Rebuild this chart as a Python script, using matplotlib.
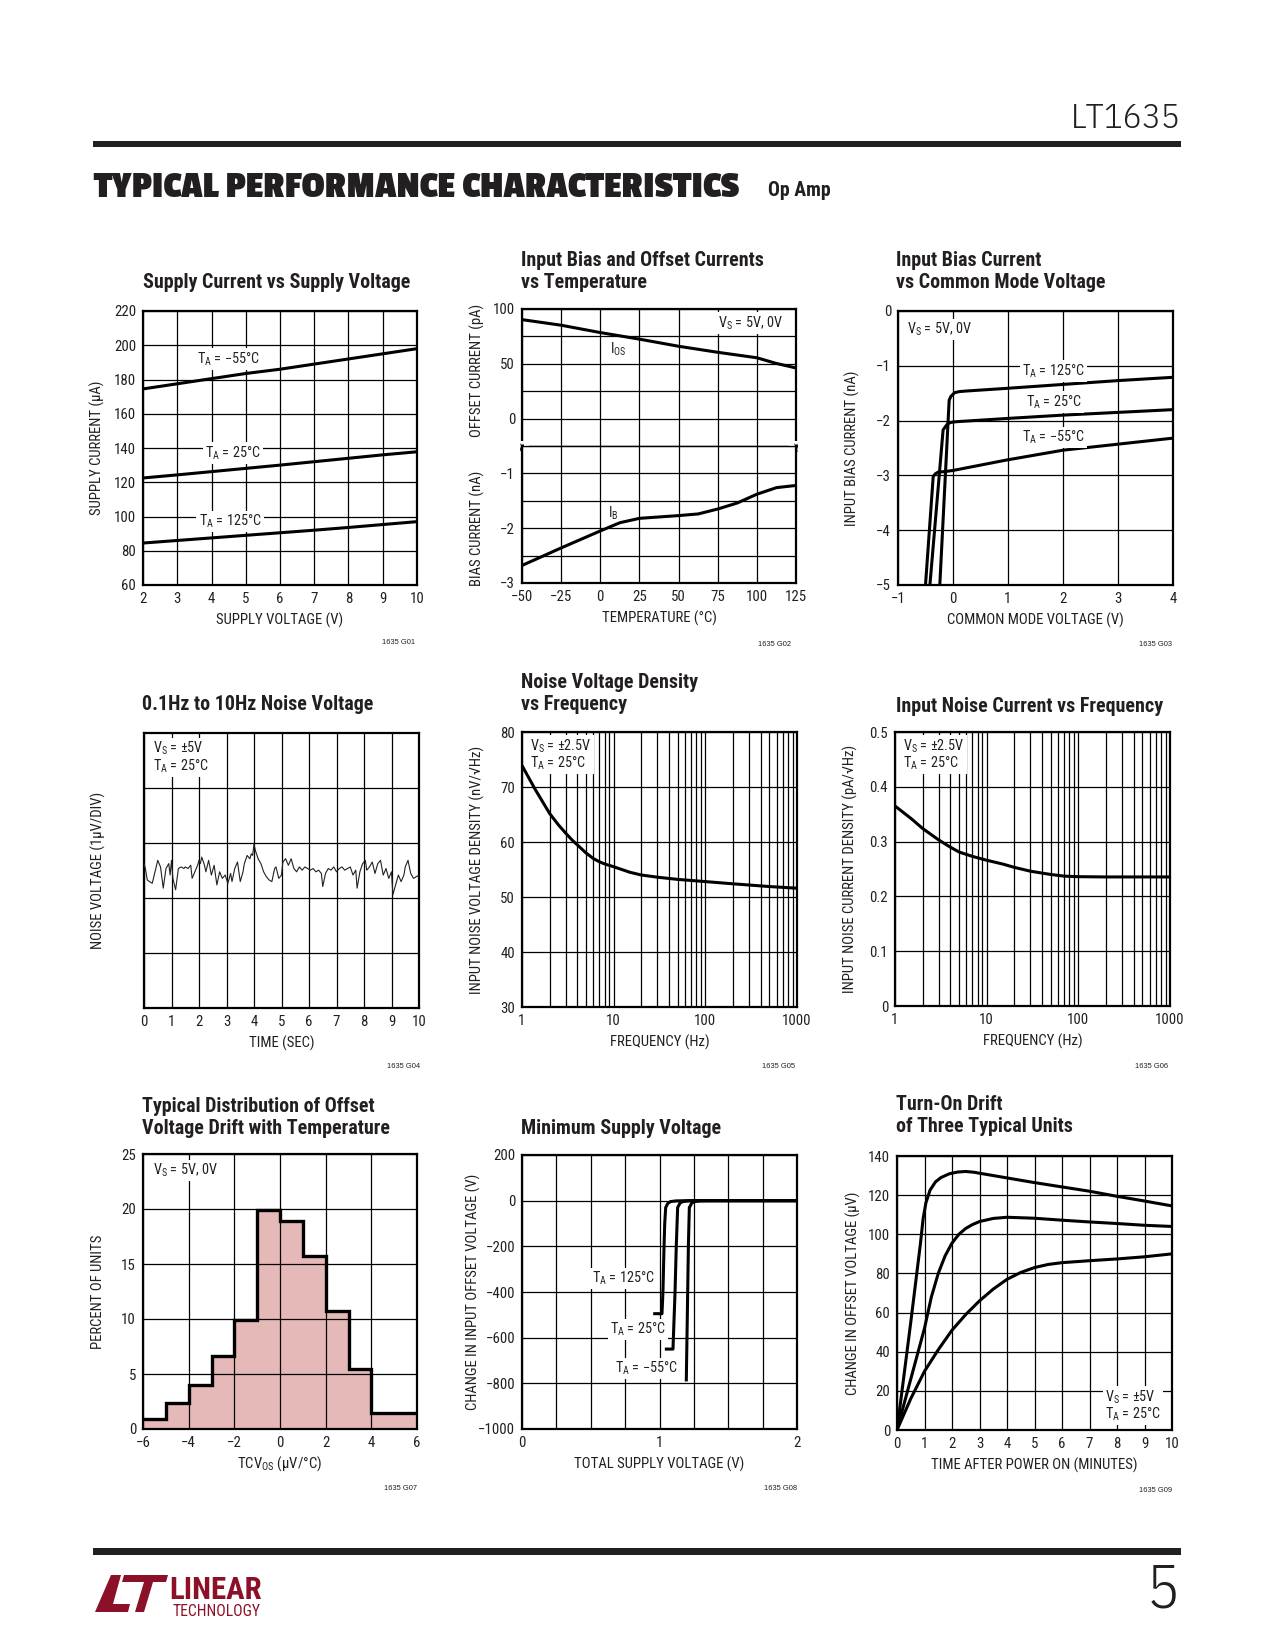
import matplotlib
matplotlib.use("Agg")
from collections import defaultdict
import matplotlib.pyplot as plt
from matplotlib import font_manager
from matplotlib.patches import Rectangle, Polygon
from matplotlib.ticker import MultipleLocator, FixedLocator, FixedFormatter, LogLocator, NullFormatter

W, H = 1275, 1650

# pick condensed faces that are really installed (need the listed weights)
weights = defaultdict(set)
for f in font_manager.fontManager.ttflist:
    weights[f.name].add(f.weight if isinstance(f.weight, int) else 400)


def pick(cands, need=(400, 700)):
    for c in cands:
        if c in weights and all(w in weights[c] for w in need):
            return c
    return 'DejaVu Sans'


BODY = pick(['Roboto Condensed', 'Archivo Narrow', 'Liberation Sans Narrow', 'PT Sans Narrow',
             'IBM Plex Sans Condensed', 'Liberation Sans'])
HEAD = pick(['Passion One', 'Anton', 'Oswald', BODY], need=(700,))
THIN = pick(['IBM Plex Sans Condensed', 'Roboto Condensed', BODY], need=(300,))
SMALL = pick(['Liberation Sans', 'DejaVu Sans'], need=(400,))

plt.rcParams['font.family'] = [BODY, 'DejaVu Sans']
plt.rcParams['mathtext.fontset'] = 'custom'
plt.rcParams['mathtext.rm'] = BODY
plt.rcParams['mathtext.it'] = BODY + ':italic'
plt.rcParams['mathtext.bf'] = BODY + ':bold'

INK = '#231F20'
RED = '#8C1027'
PINK = '#E6B9B9'

# ---- G01 supply current vs supply voltage
vs_g01 = [2, 3, 4, 5, 6, 7, 8, 9, 10]
isup_m55 = [174.5, 177.5, 180.5, 183.5, 186, 189, 192, 195, 198]
isup_25 = [122.5, 124.3, 126.2, 128.1, 130, 132, 134, 136, 137.8]
isup_125 = [84.5, 86, 87.5, 89, 90.5, 92, 93.6, 95.3, 97]

# ---- G02 bias / offset current vs temperature
temp_os = [-50, -25, 0, 25, 50, 75, 100, 112, 125]
ios_pa = [90.3, 85.2, 78.5, 72.5, 66, 60.5, 55.5, 50.5, 46.2]
temp_b = [-50, -25, 0, 12.5, 25, 50, 62.5, 75, 87.5, 100, 112.5, 125]
ib_na = [-2.68, -2.36, -2.05, -1.9, -1.82, -1.77, -1.74, -1.65, -1.54, -1.38, -1.26, -1.22]

# ---- G03 bias current vs common mode voltage
vcm_125 = [-0.24, -0.07, -0.04, 0.03, 0.12, 0.245, 1.0, 2.0, 3.0, 4.0]
ibcm_125 = [-5, -1.63, -1.56, -1.49, -1.47, -1.46, -1.41, -1.34, -1.27, -1.21]
vcm_25 = [-0.42, -0.18, -0.13, -0.09, -0.02, 0.06, 1.0, 2.0, 3.0, 4.0]
ibcm_25 = [-5, -2.17, -2.1, -2.05, -2.03, -2.02, -1.96, -1.9, -1.85, -1.8]
vcm_m55 = [-0.50, -0.36, -0.32, -0.27, -0.15, 0.0, 0.97, 2.0, 3.0, 4.0]
ibcm_m55 = [-5, -3.02, -2.97, -2.94, -2.93, -2.91, -2.72, -2.54, -2.43, -2.32]

# ---- G04 0.1Hz to 10Hz noise (uV)
noise_t = [0.0, 0.05, 0.12, 0.2, 0.3, 0.4, 0.5, 0.6, 0.7, 0.8, 0.9, 0.95,
           1.0, 1.05, 1.15, 1.25, 1.35, 1.45, 1.5, 1.6, 1.7, 1.75, 1.85, 1.95,
           2.0, 2.05, 2.1, 2.2, 2.25, 2.35, 2.45, 2.55, 2.65, 2.75, 2.85, 2.95,
           3.05, 3.15, 3.2, 3.3, 3.4, 3.5, 3.6, 3.65, 3.75, 3.85, 3.9, 3.95,
           4.0, 4.05, 4.15, 4.25, 4.35, 4.45, 4.55, 4.65, 4.75, 4.8, 4.9,
           5.0, 5.05, 5.15, 5.25, 5.35, 5.45, 5.55, 5.65, 5.75, 5.85, 5.95,
           6.05, 6.15, 6.25, 6.35, 6.45, 6.5, 6.6, 6.7, 6.8, 6.9,
           7.0, 7.1, 7.2, 7.3, 7.4, 7.5, 7.6, 7.7, 7.75, 7.85, 7.95,
           8.05, 8.1, 8.2, 8.3, 8.4, 8.5, 8.6, 8.7, 8.8, 8.9,
           9.0, 9.05, 9.15, 9.25, 9.35, 9.45, 9.5, 9.6, 9.7, 9.8, 9.9, 10.0]
noise_uv = [0.125, 0.036, -0.173, -0.202, -0.232, -0.024, 0.185, 0.065, -0.321, 0.036, 0.125, -0.083,
            0.185, -0.143, -0.351, 0.036, 0.065, 0.036, 0.065, 0.036, 0.095, -0.143, -0.024, 0.095,
            0.185, 0.125, 0.244, 0.095, -0.024, 0.185, -0.083, 0.095, -0.262, -0.024, -0.143, -0.083,
            -0.232, -0.054, -0.202, 0.036, 0.155, -0.202, -0.024, 0.125, 0.274, 0.214, 0.304, 0.274,
            0.482, 0.363, 0.214, 0.125, -0.024, -0.113, -0.173, -0.202, 0.036, 0.065, -0.143,
            -0.083, 0.155, 0.214, 0.095, 0.214, 0.036, -0.024, 0.065, 0.006, 0.065, 0.036,
            0.006, 0.036, -0.024, 0.006, -0.054, -0.292, -0.054, 0.036, 0.006, 0.065,
            -0.024, 0.036, 0.065, 0.006, 0.036, 0.065, -0.083, 0.006, -0.321, -0.024, 0.125,
            0.185, 0.006, 0.065, 0.155, -0.054, 0.125, 0.185, -0.083, 0.036, -0.143,
            -0.024, -0.440, -0.262, -0.083, -0.202, -0.083, 0.065, 0.185, -0.054, -0.143, -0.113, -0.083]

# ---- G05 noise voltage density
freq_en = [1, 1.4, 2, 2.5, 3, 3.5, 4, 5, 6, 7, 8, 10, 15, 20, 30, 50, 100, 200, 500, 1000]
en_nv = [73.9, 69.5, 65.2, 63.1, 61.6, 60.4, 59.5, 58.0, 57.0, 56.4, 56.0, 55.5, 54.5, 54.0,
         53.6, 53.2, 52.8, 52.4, 51.9, 51.6]

# ---- G06 noise current density
freq_in = [1, 1.5, 2, 3, 4, 5, 7, 10, 15, 20, 30, 50, 70, 100, 200, 1000]
in_pa = [0.365, 0.342, 0.324, 0.303, 0.290, 0.281, 0.273, 0.266, 0.259, 0.253, 0.246, 0.240,
         0.237, 0.236, 0.2355, 0.2355]

# ---- G07 offset drift distribution
tc_edges = [-6, -5, -4, -3, -2, -1, 0, 1, 2, 3, 4, 6]
tc_pct = [0.9, 2.4, 4.0, 6.6, 9.9, 19.9, 18.9, 15.7, 10.7, 5.5, 1.5]

# ---- G08 minimum supply voltage
vt_125 = [0.965, 1.018, 1.025, 1.033, 1.038, 1.045, 1.06, 1.08, 1.12, 1.2, 2.0]
dv_125 = [-495, -495, -400, -200, -100, -30, -12, -4, -1, 0, 0]
vt_25 = [1.05, 1.098, 1.113, 1.122, 1.132, 1.15, 1.17, 1.21, 1.28, 2.0]
dv_25 = [-650, -650, -400, -200, -30, -10, -4, -1, 0, 0]
vt_m55 = [1.195, 1.205, 1.21, 1.217, 1.235, 1.255, 1.29, 1.35, 2.0]
dv_m55 = [-785, -400, -200, -30, -10, -4, -1, 0, 0]

# ---- G09 turn-on drift
ton_a = [0, 0.5, 0.85, 0.95, 1.05, 1.2, 1.4, 1.6, 1.9, 2.2, 2.5, 2.8, 3, 4, 5, 6, 7, 8, 9, 10]
drift_a = [0, 55, 95, 108, 116, 122.5, 126.8, 129, 130.9, 131.8, 132.1, 131.7, 131.2, 128.8,
           126.4, 124.2, 122, 119.4, 117, 114.5]
ton_b = [0, 0.5, 1, 1.25, 1.5, 1.75, 2, 2.25, 2.5, 2.75, 3, 3.5, 4, 5, 6, 7, 8, 9, 10]
drift_b = [0, 26, 52, 68, 80, 89, 95.5, 100, 103, 105, 106.5, 108.1, 108.7, 108.2, 107.2,
           106.3, 105.5, 104.6, 104]
ton_c = [0, 0.5, 1, 1.5, 2, 2.5, 3, 3.5, 4, 4.5, 5, 5.5, 6, 7, 8, 9, 10]
drift_c = [0, 16, 30, 41, 51, 59, 66, 72, 77, 80.5, 83, 84.6, 85.5, 86.5, 87.4, 88.5, 90]

fig = plt.figure(figsize=(W / 100, H / 100), dpi=100)
renderer = fig.canvas.get_renderer()


def fit(s, target_px, **kw):
    t = fig.text(0, 0, s, fontsize=10, **kw)
    w = t.get_window_extent(renderer).width
    t.remove()
    return 10 * target_px / w


TICK = fit('200', 21.7)
LAB = fit('SUPPLY VOLTAGE (V)', 128)
NOTE = fit(r'V$_{\rm S}$ = 5V, 0V', 65)
TITLE = fit('Supply Current vs Supply Voltage', 267, fontweight='bold')
IDSZ = fit('1635 G01', 33, family=SMALL)


def px(x, y):
    return x / W, 1 - y / H


def make_axes(box):
    x0, y0, x1, y1 = box
    ax = fig.add_axes([x0 / W, 1 - y1 / H, (x1 - x0) / W, (y1 - y0) / H])
    ax.grid(True, which='both', color='black', lw=0.9)
    for s in ax.spines.values():
        s.set_linewidth(1.6)
    ax.tick_params(which='both', length=0, labelsize=TICK, pad=5, colors=INK)
    return ax


def axis_labels(ax, box, xlabel, ylabel, ydx=-45, yfrac=0.5):
    x0, y0, x1, y1 = box
    if xlabel:
        ax.set_xlabel(xlabel, fontsize=LAB, color=INK)
        ax.xaxis.set_label_coords(0.5, -35 / (y1 - y0))
        ax.xaxis.label.set_va('center')
    if ylabel:
        ax.set_ylabel(ylabel, fontsize=LAB, color=INK)
        ax.yaxis.set_label_coords(ydx / (x1 - x0), yfrac)
        ax.yaxis.label.set_va('center')


def title(x, y, lines):
    for i, s in enumerate(lines):
        fig.text(*px(x, y + i * 22), s, fontsize=TITLE, fontweight='bold',
                 va='center', ha='left', color=INK)


def note_id(xr, y, s):
    fig.text(*px(xr, y), s, fontsize=IDSZ, ha='right', va='center', color=INK, family=SMALL)


def label(ax, x, y, s, **kw):
    opts = dict(fontsize=NOTE, ha='center', va='center', bbox=WBOX, zorder=4,
                linespacing=1.0, color=INK)
    opts.update(kw)
    ax.text(x, y, s, **opts)


WBOX = dict(fc='white', ec='none', pad=1.5)
LW = 2.2

# ---------------- page furniture
fig.add_artist(Rectangle(px(93, 147), (1181 - 93) / W, 6 / H, transform=fig.transFigure,
                         color=INK, lw=0))
fig.add_artist(Rectangle(px(93, 1555), (1181 - 93) / W, 7 / H, transform=fig.transFigure,
                         color=INK, lw=0))
fig.text(*px(1181, 119), 'LT1635', fontsize=fit('LT1635', 110, family=THIN, fontweight=300),
         family=THIN, fontweight=300, ha='right', va='center', color=INK)
fig.text(*px(93, 187), 'TYPICAL PERFORMANCE CHARACTERISTICS',
         fontsize=fit('TYPICAL PERFORMANCE CHARACTERISTICS', 645, family=HEAD, fontweight='bold'),
         family=HEAD, fontweight='bold', ha='left', va='center', color=INK)
fig.text(*px(768, 190), 'Op Amp', fontsize=fit('Op Amp', 63, fontweight='bold'),
         fontweight='bold', ha='left', va='center', color=INK)
fig.text(*px(1180, 1591), '5', fontsize=44, family=THIN, fontweight=300, ha='right',
         va='center', color=INK)

logo_l = [(95, 1612), (128, 1612), (130, 1604), (113, 1604), (121, 1575), (111, 1575)]
logo_t = [(124, 1575), (168, 1575), (166, 1582), (153, 1582), (144, 1612), (135, 1612),
          (144, 1582), (122, 1582)]
for shape in (logo_l, logo_t):
    fig.add_artist(Polygon([px(x, y) for x, y in shape], closed=True,
                           transform=fig.transFigure, color=RED, lw=0))
fig.text(*px(169, 1599), 'LINEAR', fontsize=fit('LINEAR', 92, fontweight='bold'),
         fontweight='bold', color=RED, ha='left', va='baseline')
fig.text(*px(173, 1604), 'TECHNOLOGY', fontsize=fit('TECHNOLOGY', 88), color=RED,
         ha='left', va='top')

# ---------------- G01
box = (143, 311, 417, 585)
ax = make_axes(box)
for ys in (isup_m55, isup_25, isup_125):
    ax.plot(vs_g01, ys, color='black', lw=LW, zorder=3)
ax.set_xlim(2, 10)
ax.set_ylim(60, 220)
ax.xaxis.set_major_locator(MultipleLocator(1))
ax.yaxis.set_major_locator(MultipleLocator(20))
label(ax, 4.49, 191.8, r'T$_{\rm A}$ = −55°C')
label(ax, 4.64, 137, r'T$_{\rm A}$ = 25°C')
label(ax, 4.54, 97, r'T$_{\rm A}$ = 125°C')
axis_labels(ax, box, 'SUPPLY VOLTAGE (V)', 'SUPPLY CURRENT (µA)', ydx=-46)
title(143, 283, ['Supply Current vs Supply Voltage'])
note_id(415, 642, '1635 G01')

# ---------------- G02 (split axis)
box_u = (522, 309, 796, 446)
box_l = (522, 446, 796, 583)
axu = make_axes(box_u)
axl = make_axes(box_l)
axu.spines['bottom'].set_linewidth(0.9)
axl.spines['top'].set_linewidth(0.9)
axu.plot(temp_os, ios_pa, color='black', lw=LW, zorder=3)
axl.plot(temp_b, ib_na, color='black', lw=LW, zorder=3)
for a in (axu, axl):
    a.set_xlim(-50, 125)
    a.xaxis.set_major_locator(MultipleLocator(25))
axu.set_ylim(-25, 100)
axu.yaxis.set_major_locator(FixedLocator([0, 50, 100]))
axu.yaxis.set_minor_locator(MultipleLocator(25))
axu.tick_params(labelbottom=False)
axl.set_ylim(-3, -0.5)
axl.yaxis.set_major_locator(FixedLocator([-3, -2, -1]))
axl.yaxis.set_minor_locator(MultipleLocator(0.5))
label(axu, 95.7, 87.3, r'V$_{\rm S}$ = 5V, 0V')
label(axu, 11.7, 63, r'I$_{\rm OS}$', bbox=None)
label(axl, 8.5, -1.72, r'I$_{\rm B}$', bbox=None)
for xe in (-50, 125):
    axu.text(xe, -25, '≈', fontsize=9, rotation=90, ha='center', va='center', zorder=5,
             family='DejaVu Sans', bbox=dict(fc='white', ec='none', pad=0.2))
axis_labels(axu, box_u, None, 'OFFSET CURRENT (pA)', yfrac=0.55)
axis_labels(axl, box_l, 'TEMPERATURE (°C)', 'BIAS CURRENT (nA)', yfrac=0.40)
title(521, 260, ['Input Bias and Offset Currents', 'vs Temperature'])
note_id(791, 644, '1635 G02')

# ---------------- G03
box = (898, 311, 1173, 585)
ax = make_axes(box)
for xs, ys in ((vcm_125, ibcm_125), (vcm_25, ibcm_25), (vcm_m55, ibcm_m55)):
    ax.plot(xs, ys, color='black', lw=LW, zorder=3)
ax.set_xlim(-1, 4)
ax.set_ylim(-5, 0)
ax.xaxis.set_major_locator(MultipleLocator(1))
ax.yaxis.set_major_locator(MultipleLocator(1))
label(ax, -0.24, -0.34, r'V$_{\rm S}$ = 5V, 0V')
label(ax, 1.83, -1.10, r'T$_{\rm A}$ = 125°C')
label(ax, 1.83, -1.66, r'T$_{\rm A}$ = 25°C')
label(ax, 1.83, -2.31, r'T$_{\rm A}$ = −55°C')
axis_labels(ax, box, 'COMMON MODE VOLTAGE (V)', 'INPUT BIAS CURRENT (nA)', ydx=-46)
title(896, 260, ['Input Bias Current', 'vs Common Mode Voltage'])
note_id(1172, 644, '1635 G03')

# ---------------- G04
box = (144, 733, 419, 1008)
ax = make_axes(box)
ax.plot(noise_t, noise_uv, color='#222222', lw=0.8, zorder=3)
ax.set_xlim(0, 10)
ax.set_ylim(-2.5, 2.5)
ax.xaxis.set_major_locator(MultipleLocator(1))
ax.yaxis.set_major_locator(FixedLocator([-1.5, -0.5, 0.5, 1.5]))
ax.tick_params(labelleft=False)
label(ax, 0.034, 0.911, 'V$_{\\rm S}$ = ±5V\nT$_{\\rm A}$ = 25°C', transform=ax.transAxes, ha='left')
axis_labels(ax, box, 'TIME (SEC)', 'NOISE VOLTAGE (1µV/DIV)', ydx=-46, yfrac=0.5)
title(142, 704, ['0.1Hz to 10Hz Noise Voltage'])
note_id(420, 1067, '1635 G04')

# ---------------- G05
box = (522, 732, 797, 1007)
ax = make_axes(box)
ax.semilogx(freq_en, en_nv, color='black', lw=LW, zorder=3)
ax.set_xlim(1, 1000)
ax.set_ylim(30, 80)
ax.yaxis.set_major_locator(MultipleLocator(10))
ax.xaxis.set_major_locator(FixedLocator([1, 10, 100, 1000]))
ax.xaxis.set_major_formatter(FixedFormatter(['1', '10', '100', '1000']))
ax.xaxis.set_minor_locator(LogLocator(subs=range(2, 10)))
ax.xaxis.set_minor_formatter(NullFormatter())
label(ax, 0.03, 0.917, 'V$_{\\rm S}$ = ±2.5V\nT$_{\\rm A}$ = 25°C', transform=ax.transAxes, ha='left')
axis_labels(ax, box, 'FREQUENCY (Hz)', 'INPUT NOISE VOLTAGE DENSITY (nV/√Hz)')
title(521, 683, ['Noise Voltage Density', 'vs Frequency'])
note_id(795, 1067, '1635 G05')

# ---------------- G06
box = (895, 732, 1170, 1006)
ax = make_axes(box)
ax.semilogx(freq_in, in_pa, color='black', lw=LW, zorder=3)
ax.set_xlim(1, 1000)
ax.set_ylim(0, 0.5)
ax.yaxis.set_major_locator(FixedLocator([0, 0.1, 0.2, 0.3, 0.4, 0.5]))
ax.yaxis.set_major_formatter(FixedFormatter(['0', '0.1', '0.2', '0.3', '0.4', '0.5']))
ax.xaxis.set_major_locator(FixedLocator([1, 10, 100, 1000]))
ax.xaxis.set_major_formatter(FixedFormatter(['1', '10', '100', '1000']))
ax.xaxis.set_minor_locator(LogLocator(subs=range(2, 10)))
ax.xaxis.set_minor_formatter(NullFormatter())
label(ax, 0.03, 0.917, 'V$_{\\rm S}$ = ±2.5V\nT$_{\\rm A}$ = 25°C', transform=ax.transAxes, ha='left')
axis_labels(ax, box, 'FREQUENCY (Hz)', 'INPUT NOISE CURRENT DENSITY (pA/√Hz)')
title(896, 706, ['Input Noise Current vs Frequency'])
note_id(1168, 1067, '1635 G06')

# ---------------- G07
box = (143, 1154, 417, 1429)
ax = make_axes(box)
ax.set_axisbelow(False)
ax.stairs(tc_pct, tc_edges, fill=True, color=PINK, zorder=1)
ax.stairs(tc_pct, tc_edges, baseline=None, color='black', lw=2.4, zorder=3)
ax.set_xlim(-6, 6)
ax.set_ylim(0, 25)
ax.xaxis.set_major_locator(MultipleLocator(2))
ax.yaxis.set_major_locator(MultipleLocator(5))
label(ax, 0.035, 0.94, r'V$_{\rm S}$ = 5V, 0V', transform=ax.transAxes, ha='left')
axis_labels(ax, box, r'TCV$_{\rm OS}$ (µV/°C)', 'PERCENT OF UNITS')
title(142, 1106, ['Typical Distribution of Offset', 'Voltage Drift with Temperature'])
note_id(417, 1488, '1635 G07')

# ---------------- G08
box = (522, 1155, 797, 1429)
ax = make_axes(box)
for xs, ys in ((vt_125, dv_125), (vt_25, dv_25), (vt_m55, dv_m55)):
    ax.plot(xs, ys, color='black', lw=LW, zorder=3)
ax.set_xlim(0, 2)
ax.set_ylim(-1000, 200)
ax.xaxis.set_major_locator(FixedLocator([0, 1, 2]))
ax.xaxis.set_minor_locator(MultipleLocator(0.25))
ax.yaxis.set_major_locator(MultipleLocator(200))
label(ax, 0.735, -341, r'T$_{\rm A}$ = 125°C')
label(ax, 0.844, -564, r'T$_{\rm A}$ = 25°C')
label(ax, 0.904, -735, r'T$_{\rm A}$ = −55°C')
axis_labels(ax, box, 'TOTAL SUPPLY VOLTAGE (V)', 'CHANGE IN INPUT OFFSET VOLTAGE (V)', ydx=-49)
title(521, 1128, ['Minimum Supply Voltage'])
note_id(797, 1488, '1635 G08')

# ---------------- G09
box = (897, 1156, 1172, 1430)
ax = make_axes(box)
for xs, ys in ((ton_a, drift_a), (ton_b, drift_b), (ton_c, drift_c)):
    ax.plot(xs, ys, color='black', lw=LW, zorder=3)
ax.set_xlim(0, 10)
ax.set_ylim(0, 140)
ax.xaxis.set_major_locator(MultipleLocator(1))
ax.yaxis.set_major_locator(MultipleLocator(20))
label(ax, 0.756, 0.089, 'V$_{\\rm S}$ = ±5V\nT$_{\\rm A}$ = 25°C', transform=ax.transAxes, ha='left')
axis_labels(ax, box, 'TIME AFTER POWER ON (MINUTES)', 'CHANGE IN OFFSET VOLTAGE (µV)', ydx=-44)
title(896, 1105, ['Turn-On Drift', 'of Three Typical Units'])
note_id(1172, 1491, '1635 G09')

fig.savefig('out.png', dpi=100)
